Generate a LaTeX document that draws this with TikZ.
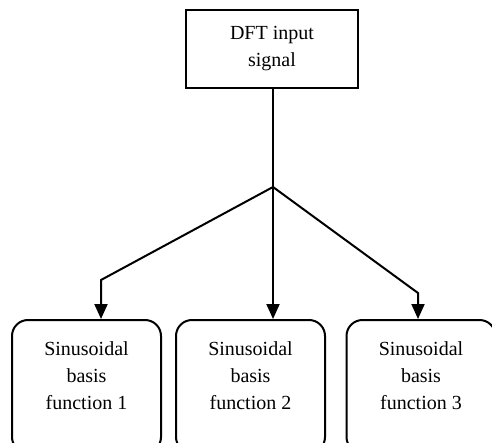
\documentclass[tikz,border=0pt]{standalone}
\usepackage{fontspec}
\setmainfont{Liberation Serif}
\usetikzlibrary{arrows.meta}
\begin{document}
\begin{tikzpicture}[x=1pt,y=-1pt,
  every node/.style={font=\fontsize{20}{27}\selectfont, align=center, line width=2pt, inner sep=0pt},
  topbox/.style={draw, minimum width=172pt, minimum height=78pt},
  basisbox/.style={draw, rounded corners=16pt, minimum width=149pt, minimum height=133pt},
  conn/.style={line width=2pt, -{Triangle[width=13pt,length=15pt]}}
]
\useasboundingbox (0,0) rectangle (492,443);
\clip (0,0) rectangle (492,443);
\node[topbox] (dft) at (272,49) {DFT input\\signal};
\node[basisbox] (b1) at (86.5,386.5) {Sinusoidal\\basis\\function 1\\[-6pt]\mbox{}};
\node[basisbox] (b2) at (250.5,386.5) {Sinusoidal\\basis\\function 2\\[-6pt]\mbox{}};
\node[basisbox] (b3) at (421,386.5) {Sinusoidal\\basis\\function 3\\[-6pt]\mbox{}};
\coordinate (j) at (273,187);
\coordinate (k1) at (101,280);
\coordinate (k3) at (418,293);
\draw[line width=2pt] (dft.south -| j) -- (j);
\draw[conn] (j) -- (k1) -- (k1 |- b1.north);
\draw[conn] (j) -- (j |- b2.north);
\draw[conn] (j) -- (k3) -- (k3 |- b3.north);
\end{tikzpicture}
\end{document}
